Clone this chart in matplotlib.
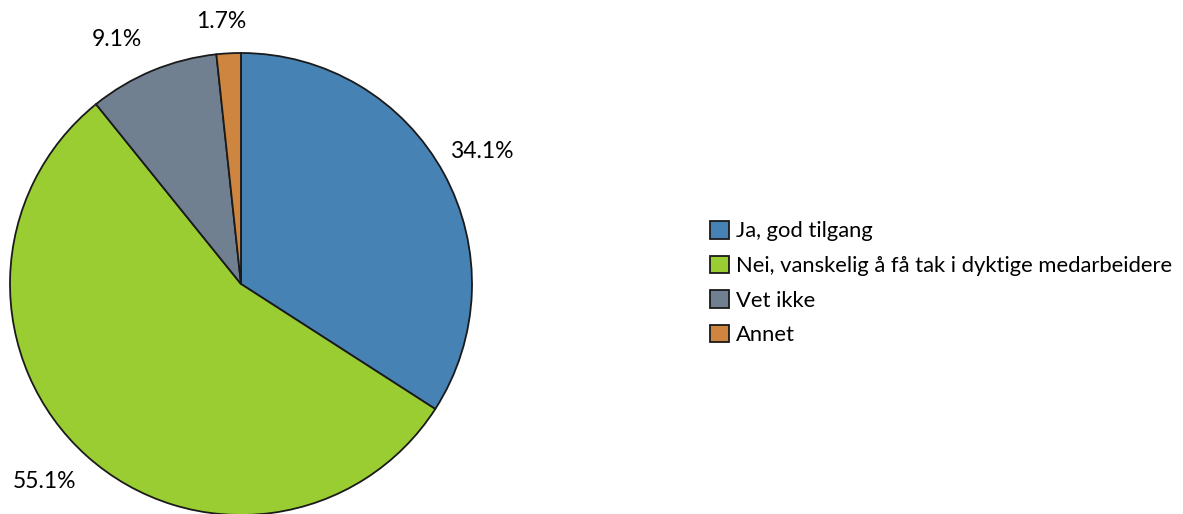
#!/usr/bin/env python3
"""
Kakediagram: tilgang på arbeidskraft
"""

import matplotlib
matplotlib.use('Agg')
import matplotlib.pyplot as plt

plt.rcParams['font.family'] = ['Lato', 'DejaVu Sans']

labels = ['Ja, god tilgang',
          'Nei, vanskelig å få tak i dyktige medarbeidere',
          'Vet ikke',
          'Annet']
values = [34.1, 55.1, 9.1, 1.7]
colors = ['#4682B4', '#9ACD32', '#708090', '#CD853F']

# plassering av prosent-etiketter (piksler, fra toppen)
label_pos = [(482, 152), (45, 481), (117, 39), (221, 22)]

W, H = 1183, 514
fig = plt.figure(figsize=(W / 100, H / 100), dpi=100)
ax = fig.add_axes([0, 0, 1, 1])

wedges, texts, autotexts = ax.pie(
    values, colors=colors, startangle=90, counterclock=False,
    center=(241, H - 284), radius=231, frame=True,
    autopct='%.1f%%', pctdistance=1.18,
    wedgeprops=dict(edgecolor='#1a1a1a', linewidth=1.3),
    textprops=dict(fontsize=16.5, color='black'))
for t, (x, y) in zip(autotexts, label_pos):
    t.set_position((x, H - y))
ax.set_xlim(0, W)
ax.set_ylim(0, H)
ax.set_aspect('equal')
ax.axis('off')

leg = ax.legend(wedges, labels, loc='upper left',
                bbox_to_anchor=(710 / W, 1 - 221 / H),
                frameon=False, fontsize=15.8,
                handlelength=0.85, handleheight=0.85, handletextpad=0.35,
                labelspacing=0.65, borderaxespad=0, borderpad=0)

plt.savefig('out.png', dpi=100)
